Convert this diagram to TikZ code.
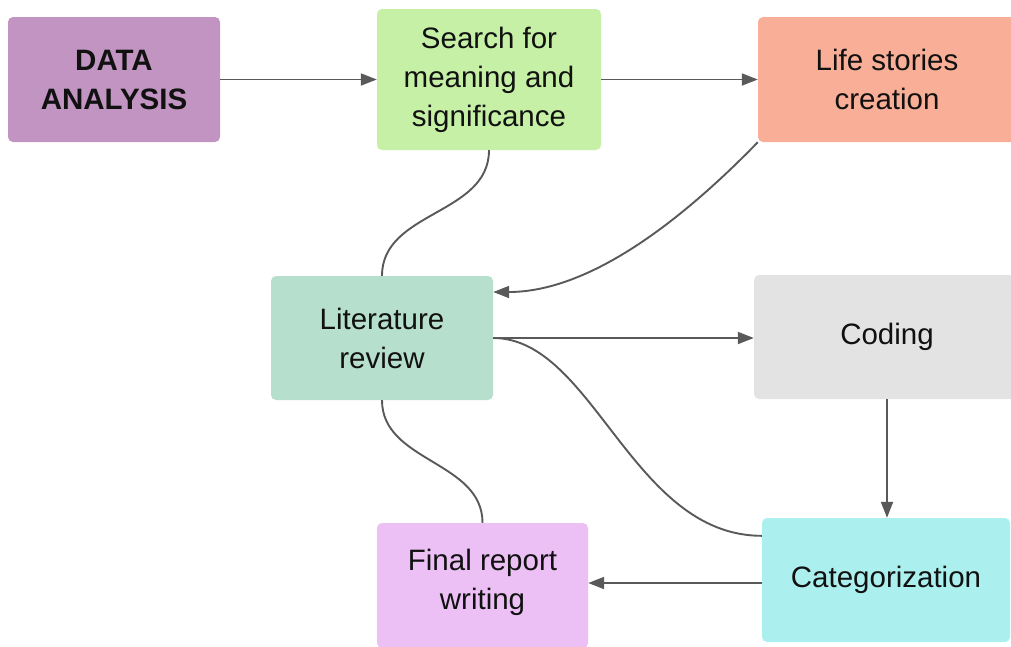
\documentclass[tikz,border=0pt]{standalone}
\usepackage{fontspec}
\setmainfont{Liberation Sans}
\usetikzlibrary{arrows.meta,calc}

\definecolor{cData}{HTML}{C194C2}
\definecolor{cSearch}{HTML}{C5F0A5}
\definecolor{cLife}{HTML}{F8AE97}
\definecolor{cLit}{HTML}{B7DFCD}
\definecolor{cCoding}{HTML}{E3E3E3}
\definecolor{cCat}{HTML}{ABF0EE}
\definecolor{cFinal}{HTML}{ECC0F5}
\definecolor{cLine}{HTML}{595959}
\definecolor{cText}{HTML}{111111}

\tikzset{
  stepbox/.style={rectangle, rounded corners=5pt, draw=none, align=center,
    inner sep=0pt, text=cText,
    font=\fontsize{29.5}{39}\selectfont},
  link/.style={draw=cLine, line width=1.9pt},
  arrowlink/.style={link, -{Triangle[length=16pt,width=12pt]}},
}

\begin{document}
\begin{tikzpicture}[x=1pt,y=-1pt]
  \useasboundingbox (0,0) rectangle (1011,646);
  \clip (0,0) rectangle (1011,646);

  % process steps
  \node[stepbox, fill=cData, minimum width=212pt, minimum height=125pt,
        font=\fontsize{29.5}{39}\selectfont\bfseries] (data) at (114,79.5) {DATA\\ANALYSIS};
  \node[stepbox, fill=cSearch, minimum width=224pt, minimum height=141pt] (search) at (489,79.5)
        {Search for\\meaning and\\significance};
  \node[stepbox, fill=cLife, minimum width=258pt, minimum height=125pt] (life) at (887,79.5)
        {Life stories\\creation};
  \node[stepbox, fill=cLit, minimum width=222pt, minimum height=124pt] (lit) at (382,338)
        {Literature\\review};
  \node[stepbox, fill=cCoding, minimum width=266pt, minimum height=124pt] (coding) at (887,337)
        {Coding};
  \node[stepbox, fill=cCat, minimum width=248pt, minimum height=124pt] (cat) at (886,580)
        {Categorization};
  \node[stepbox, fill=cFinal, minimum width=211pt, minimum height=125pt] (final) at (482.5,585.5) {};
  \node[stepbox] (finaltext) at (482.5,582) {Final report\\writing};

  % connectors
  \draw[arrowlink] (data.east) -- (search.west);
  \draw[arrowlink] (search.east) -- (search.east -| life.west);
  \draw[link] (search.south) .. controls +(0,65) and +(0,-65) .. (lit.north);
  \draw[arrowlink] (life.south west) .. controls +(-70,72) and +(100,0) .. ([yshift=46pt]lit.east);
  \draw[arrowlink] (lit.east) -- (lit.east -| coding.west);
  \draw[link] (lit.east) .. controls +(100,0) and +(-130,0) .. ([yshift=-18pt]cat.north west);
  \draw[link] (lit.south) .. controls +(0,62) and +(0,-62) .. (final.north);
  \draw[arrowlink] (coding.south) -- (coding.south |- cat.north);
  \draw[arrowlink] ([yshift=-3pt]cat.west) -- ([yshift=-3pt]cat.west -| final.east);
\end{tikzpicture}
\end{document}
